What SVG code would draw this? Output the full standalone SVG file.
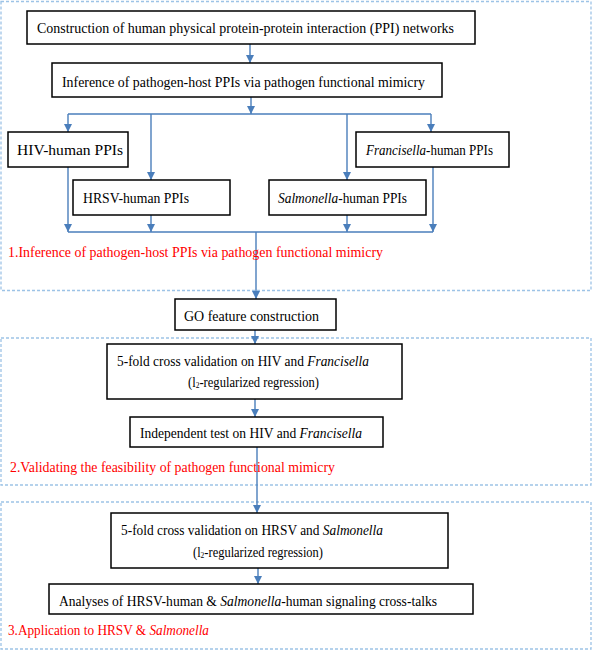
<svg xmlns="http://www.w3.org/2000/svg" width="593" height="651" viewBox="0 0 593 651">
<defs>
<style>
.bg{fill:#ffffff}
.panel{fill:none;stroke:#9dc3e6;stroke-width:1.3;stroke-dasharray:3 2}
.box{fill:#ffffff;stroke:#000000;stroke-width:1.5}
.t{font-family:"Liberation Serif","Times New Roman",serif;font-size:15px;fill:#000000}
.r{font-family:"Liberation Serif","Times New Roman",serif;font-size:15px;fill:#ff0000}
.i{font-style:italic}
.c{fill:none;stroke:#4a7ebb;stroke-width:1.4}
</style>
<marker id="ah" markerWidth="8" markerHeight="8" refX="8" refY="4" orient="auto" markerUnits="userSpaceOnUse">
<path d="M0,0 L8,4 L0,8 z" fill="#4a7ebb"/>
</marker>
</defs>
<rect class="bg" x="0" y="0" width="593" height="651"/>
<g id="panels">
<rect class="panel" x="1" y="1.5" width="590" height="289"/>
<rect class="panel" x="1" y="338" width="590" height="147"/>
<rect class="panel" x="1" y="502" width="590" height="147"/>
</g>
<g id="connectors">
<path class="c" d="M250,44 V63" marker-end="url(#ah)"/>
<path class="c" d="M251,97 V114" marker-end="url(#ah)"/>
<path class="c" d="M68,114 H431"/>
<path class="c" d="M68,114 V132" marker-end="url(#ah)"/>
<path class="c" d="M151,114 V180" marker-end="url(#ah)"/>
<path class="c" d="M347,114 V180" marker-end="url(#ah)"/>
<path class="c" d="M431,114 V132" marker-end="url(#ah)"/>
<path class="c" d="M68,232 H433"/>
<path class="c" d="M68,167 V232" marker-end="url(#ah)"/>
<path class="c" d="M151,215 V232" marker-end="url(#ah)"/>
<path class="c" d="M347,215 V232" marker-end="url(#ah)"/>
<path class="c" d="M433,167 V232" marker-end="url(#ah)"/>
<path class="c" d="M256,232 V299" marker-end="url(#ah)"/>
<path class="c" d="M255,330 V344" marker-end="url(#ah)"/>
<path class="c" d="M255,399 V417" marker-end="url(#ah)"/>
<path class="c" d="M257,447 V513" marker-end="url(#ah)"/>
<path class="c" d="M258,568 V584" marker-end="url(#ah)"/>
</g>
<g id="n1"><rect class="box" x="27" y="11" width="448" height="33"/>
<text class="t" x="37" y="33" textLength="417" lengthAdjust="spacingAndGlyphs">Construction of human physical protein-protein interaction (PPI) networks</text></g>
<g id="n2"><rect class="box" x="52" y="63" width="390" height="34"/>
<text class="t" x="62" y="87" textLength="363" lengthAdjust="spacingAndGlyphs">Inference of pathogen-host PPIs via pathogen functional mimicry</text></g>
<g id="hiv"><rect class="box" x="8" y="132" width="120" height="35"/>
<text class="t" x="17" y="155" textLength="106" lengthAdjust="spacingAndGlyphs">HIV-human PPIs</text></g>
<g id="hrsv"><rect class="box" x="73" y="180" width="157" height="35"/>
<text class="t" x="83" y="203" textLength="106" lengthAdjust="spacingAndGlyphs">HRSV-human PPIs</text></g>
<g id="salm"><rect class="box" x="269" y="180" width="157" height="35"/>
<text class="t" x="278" y="203" textLength="129" lengthAdjust="spacingAndGlyphs"><tspan class="i">Salmonella</tspan>-human PPIs</text></g>
<g id="fran"><rect class="box" x="356" y="132" width="153" height="35"/>
<text class="t" x="366" y="155" textLength="127" lengthAdjust="spacingAndGlyphs"><tspan class="i">Francisella</tspan>-human PPIs</text></g>
<g id="label1"><text class="r" x="8" y="257" textLength="375" lengthAdjust="spacingAndGlyphs">1.Inference of pathogen-host PPIs via pathogen functional mimicry</text></g>
<g id="go"><rect class="box" x="175" y="299" width="161" height="31"/>
<text class="t" x="184" y="321" textLength="135" lengthAdjust="spacingAndGlyphs">GO feature construction</text></g>
<g id="cv1"><rect class="box" x="107" y="344" width="295" height="55"/>
<text class="t" x="117" y="366" textLength="252" lengthAdjust="spacingAndGlyphs">5-fold cross validation on HIV and <tspan class="i">Francisella</tspan></text>
<text class="t" x="188" y="387" textLength="131" lengthAdjust="spacingAndGlyphs">(l<tspan font-size="9" dy="1">2</tspan><tspan dy="-1">-regularized regression)</tspan></text></g>
<g id="ind"><rect class="box" x="130" y="417" width="253" height="30"/>
<text class="t" x="140" y="438" textLength="222" lengthAdjust="spacingAndGlyphs">Independent test on HIV and <tspan class="i">Francisella</tspan></text></g>
<g id="label2"><text class="r" x="10" y="472" textLength="325" lengthAdjust="spacingAndGlyphs">2.Validating the feasibility of pathogen functional mimicry</text></g>
<g id="cv2"><rect class="box" x="111" y="513" width="337" height="55"/>
<text class="t" x="121" y="535" textLength="262" lengthAdjust="spacingAndGlyphs">5-fold cross validation on HRSV and <tspan class="i">Salmonella</tspan></text>
<text class="t" x="193" y="557" textLength="130" lengthAdjust="spacingAndGlyphs">(l<tspan font-size="9" dy="1">2</tspan><tspan dy="-1">-regularized regression)</tspan></text></g>
<g id="ana"><rect class="box" x="49" y="584" width="424" height="30"/>
<text class="t" x="59" y="606" textLength="378" lengthAdjust="spacingAndGlyphs">Analyses of HRSV-human &amp; <tspan class="i">Salmonella</tspan>-human signaling cross-talks</text></g>
<g id="label3"><text class="r" x="8" y="635" textLength="201" lengthAdjust="spacingAndGlyphs">3.Application to HRSV &amp; <tspan class="i">Salmonella</tspan></text></g>
</svg>
